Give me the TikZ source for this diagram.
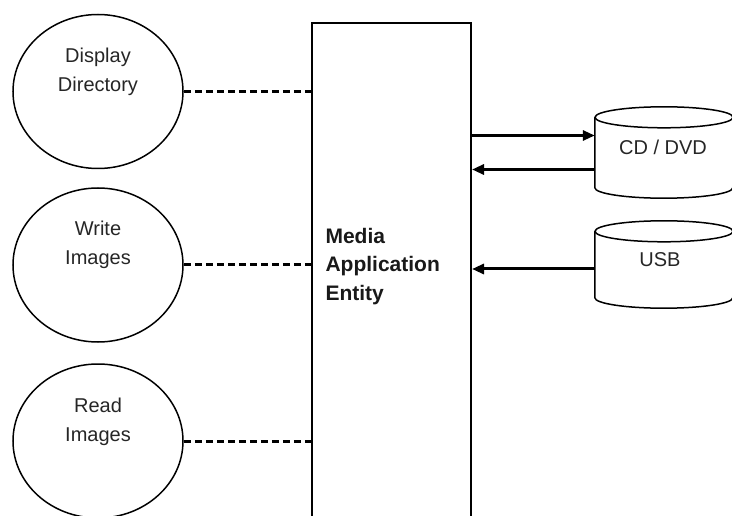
\documentclass[tikz,border=0pt]{standalone}
\usepackage{fontspec}
\setmainfont{Liberation Sans}
\usetikzlibrary{shapes.geometric,arrows.meta}

\begin{document}
\begin{tikzpicture}[x=1pt, y=-1pt,
    usecase/.style = {draw, ellipse, line width=1.5pt, minimum width=170pt, minimum height=154pt, inner sep=0pt},
    store/.style = {minimum width=138pt, inner sep=0pt},
    link/.style = {line width=3pt, dash pattern=on 7pt off 4pt},
    flow/.style = {line width=3pt, -{Triangle[length=12pt,width=10pt]}},
    txt/.style = {align=center, text=black!85, font=\fontsize{20}{29}\selectfont}]
  \useasboundingbox (0,0) rectangle (732,516);

  % use cases on the left
  \node [usecase] (disp)  at (98,91.5) {};
  \node [usecase] (write) at (98,265)  {};
  \node [usecase] (read)  at (98,441)  {};
  \node [txt] at ([yshift=20pt]disp.center)  {Display\\Directory};
  \node [txt] at ([yshift=20pt]write.center) {Write\\Images};
  \node [txt] at ([yshift=19pt]read.center)  {Read\\Images};

  % the entity box
  \node [draw, line width=2pt, anchor=north west, minimum width=159pt,
         minimum height=510pt, inner sep=0pt] (mae) at (311,22) {};
  \node [anchor=west, align=left, text=black!90,
         font=\fontsize{21}{28.5}\selectfont\bfseries] at (322,266.5) {Media\\Application\\Entity};

  % media stores
  \node [store, minimum height=91pt] (cd)  at (664,152.5) {};
  \node [store, minimum height=87pt] (usb) at (664,264.5) {};
  \foreach \n in {cd,usb}{
      \draw [line width=1.5pt] ([yshift=-10.5pt]\n.north) ellipse [x radius=69pt, y radius=10.5pt];
      \draw [line width=1.5pt] ([yshift=-10.5pt]\n.north west) -- ([yshift=10.5pt]\n.south west)
          arc [start angle=180, end angle=360, x radius=69pt, y radius=10.5pt]
          -- ([yshift=-10.5pt]\n.north east);
    }
  \node [txt] at (663,147) {CD / DVD};
  \node [txt] at (660,260) {USB};

  % connectors
  \foreach \u in {disp,write,read}{
      \draw [link] (\u.east) -- (\u.east -| mae.west);
    }
  \draw [flow] ([yshift=17pt]cd.west -| mae.east) -- ([yshift=17pt]cd.west);
  \draw [flow] ([yshift=-17pt]cd.west) -- ([yshift=-17pt]cd.west -| mae.east);
  \draw [flow] ([yshift=-4.5pt]usb.west) -- ([yshift=-4.5pt]usb.west -| mae.east);

\end{tikzpicture}
\end{document}
